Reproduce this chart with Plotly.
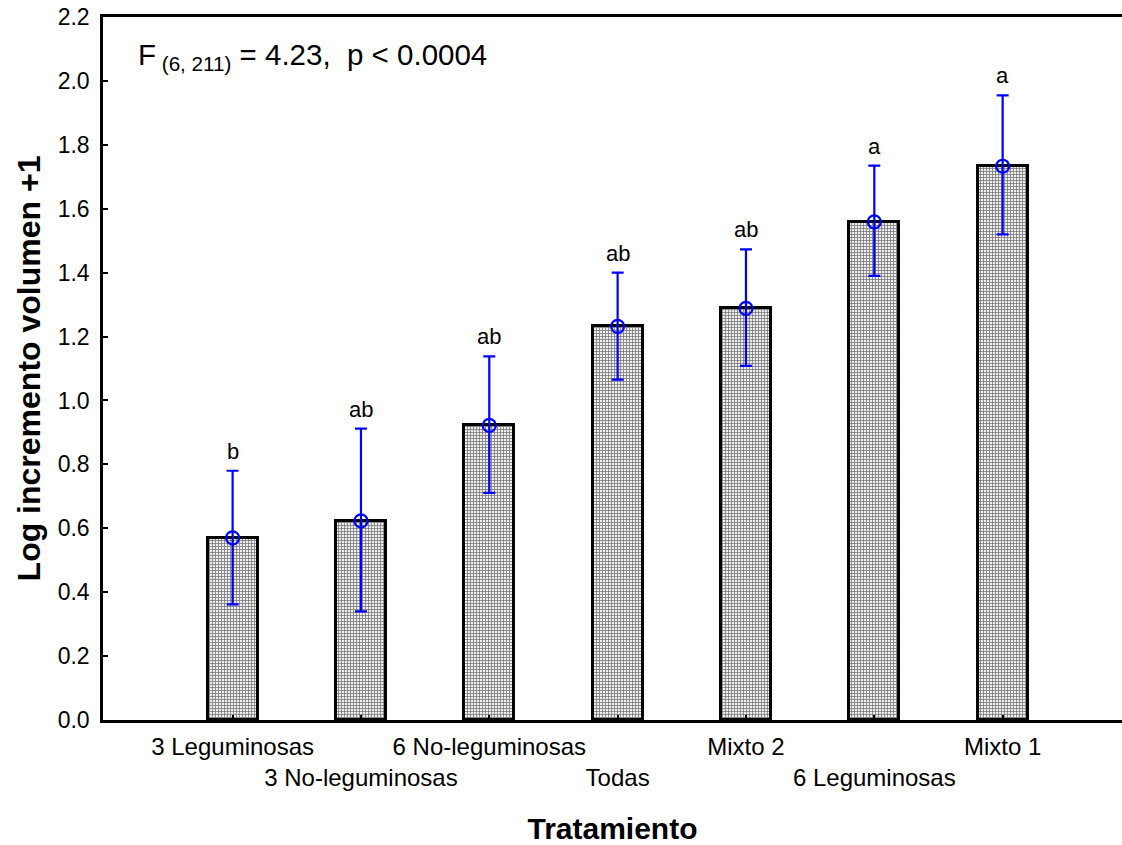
import plotly.graph_objects as go

# Treatment groups and summary statistics (log of volume increment + 1)
tratamientos = ["3 Leguminosas", "3 No-leguminosas", "6 No-leguminosas", "Todas",
                "Mixto 2", "6 Leguminosas", "Mixto 1"]
medias = [0.57, 0.623, 0.922, 1.232, 1.288, 1.559, 1.733]
lim_sup = [0.78, 0.912, 1.138, 1.400, 1.473, 1.735, 1.955]
lim_inf = [0.362, 0.340, 0.711, 1.065, 1.108, 1.390, 1.520]
letras = ["b", "ab", "ab", "ab", "ab", "a", "a"]

FONT = "Liberation Sans, Arial, sans-serif"
BLUE = "#0000ff"

x = list(range(len(tratamientos)))
err_plus = [s - m for s, m in zip(lim_sup, medias)]
err_minus = [m - i for m, i in zip(medias, lim_inf)]

fig = go.Figure()

fig.add_trace(go.Bar(
    x=x, y=medias, width=0.39,
    marker=dict(
        color="white",
        line=dict(color="black", width=3),
        pattern=dict(shape="+", size=3, solidity=0.45,
                     fgcolor="#767676", bgcolor="#eeeeee", fillmode="replace"),
    ),
    showlegend=False, hoverinfo="skip",
))

fig.add_trace(go.Scatter(
    x=x, y=medias, mode="markers",
    marker=dict(symbol="circle-open", size=13, color=BLUE, line=dict(width=2.2, color=BLUE)),
    error_y=dict(type="data", symmetric=False, array=err_plus, arrayminus=err_minus,
                 color=BLUE, thickness=2.2, width=6),
    showlegend=False, hoverinfo="skip",
))

# Group letters above each error bar
for xi, top, lt in zip(x, lim_sup, letras):
    fig.add_annotation(x=xi, y=top, text=lt, showarrow=False, yanchor="bottom",
                       yshift=5, font=dict(family=FONT, size=22, color="black"))

fig.add_annotation(
    xref="paper", yref="paper", x=0.032, y=0.944, xanchor="left", yanchor="middle",
    text="F<sub> (6, 211)</sub> = 4.23,  p < 0.0004", showarrow=False,
    font=dict(family=FONT, size=29.5, color="black"),
)

ticktext = [t if i % 2 == 0 else "<br>" + t for i, t in enumerate(tratamientos)]

fig.update_layout(
    width=1122, height=845,
    margin=dict(l=103, r=0, t=17, b=125, autoexpand=False),
    paper_bgcolor="white", plot_bgcolor="white",
    font=dict(family=FONT, size=22, color="black"),
    bargap=0,
    xaxis=dict(
        range=[-1.01, 6.93], automargin=False,
        tickmode="array", tickvals=x, ticktext=ticktext, tickangle=0,
        ticks="inside", ticklen=5, tickwidth=1.5, tickcolor="black",
        ticklabelstandoff=3,
        showline=True, linecolor="black", linewidth=2.5, mirror=True,
        showgrid=False, zeroline=False,
        tickfont=dict(family=FONT, size=24),
        title=dict(text="<b>Tratamiento</b>", font=dict(family=FONT, size=30), standoff=38),
    ),
    yaxis=dict(
        range=[0, 2.2], dtick=0.2, tickformat=".1f", automargin=False,
        ticks="inside", ticklen=5, tickwidth=1.5, tickcolor="black",
        ticklabelstandoff=6,
        showline=True, linecolor="black", linewidth=2.5,
        showgrid=False, zeroline=False,
        tickfont=dict(family=FONT, size=23),
        title=dict(text="<b>Log incremento volumen +1</b>", font=dict(family=FONT, size=32),
                   standoff=8),
    ),
)

fig.write_html("out.html")
